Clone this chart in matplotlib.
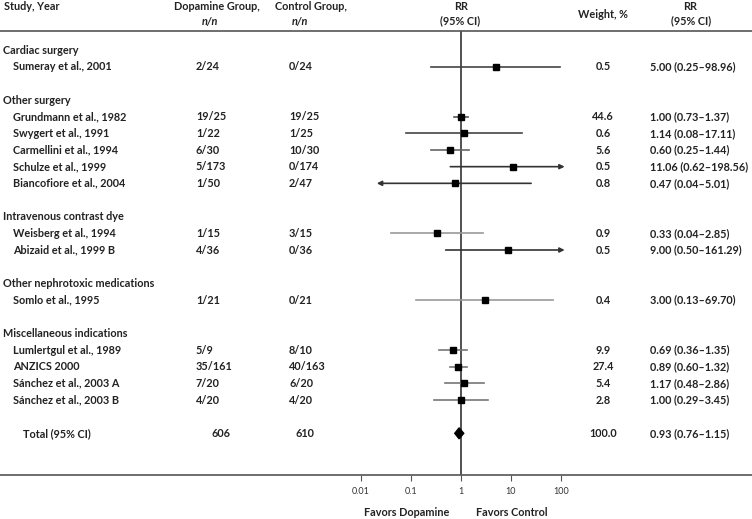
import matplotlib
matplotlib.use("Agg")
import matplotlib.pyplot as plt
import numpy as np

plt.rcParams['font.family'] = ['Lato', 'DejaVu Sans']

# rows: group headers and studies, in order of display
groups = ["Cardiac surgery", "Other surgery", "Intravenous contrast dye",
          "Other nephrotoxic medications", "Miscellaneous indications"]
group_rows = [0, 3, 10, 14, 17]

studies = ["Sumeray et al., 2001",
           "Grundmann et al., 1982", "Swygert et al., 1991", "Carmellini et al., 1994",
           "Schulze et al., 1999", "Biancofiore et al., 2004",
           "Weisberg et al., 1994", "Abizaid et al., 1999 B",
           "Somlo et al., 1995",
           "Lumlertgul et al., 1989", "ANZICS 2000", "Sánchez et al., 2003 A",
           "Sánchez et al., 2003 B"]
study_rows = [1, 4, 5, 6, 7, 8, 11, 12, 15, 18, 19, 20, 21]
dopamine = ["2/24", "19/25", "1/22", "6/30", "5/173", "1/50", "1/15", "4/36",
            "1/21", "5/9", "35/161", "7/20", "4/20"]
control = ["0/24", "19/25", "1/25", "10/30", "0/174", "2/47", "3/15", "0/36",
           "0/21", "8/10", "40/163", "6/20", "4/20"]
weight = ["0.5", "44.6", "0.6", "5.6", "0.5", "0.8", "0.9", "0.5", "0.4",
          "9.9", "27.4", "5.4", "2.8"]
rr_text = ["5.00 (0.25–98.96)", "1.00 (0.73–1.37)", "1.14 (0.08–17.11)",
           "0.60 (0.25–1.44)", "11.06 (0.62–198.56)", "0.47 (0.04–5.01)",
           "0.33 (0.04–2.85)", "9.00 (0.50–161.29)", "3.00 (0.13–69.70)",
           "0.69 (0.36–1.35)", "0.89 (0.60–1.32)", "1.17 (0.48–2.86)",
           "1.00 (0.29–3.45)"]

# plotted estimates and intervals (as drawn in the figure)
est = [5.00, 1.00, 1.14, 0.60, 11.06, 0.77, 0.33, 9.00, 3.00, 0.69, 0.89, 1.17, 1.00]
lo = [0.25, 0.73, 0.08, 0.25, 0.62, 0.021, 0.04, 0.50, 0.13, 0.36, 0.60, 0.48, 0.29]
hi = [98.96, 1.37, 17.11, 1.44, 198.56, 25.6, 2.85, 161.29, 69.70, 1.35, 1.32, 2.86, 3.45]
arrows = ["", "", "", "", ">", "<", "", ">", "", "", "", "", ""]
ci_colors = ["#444444", "#555555", "#444444", "#666666", "#666666", "#444444",
             "#999999", "#555555", "#999999", "#777777", "#777777", "#777777", "#777777"]

total_row = 23
total_n = ["606", "610"]
total_est, total_lo, total_hi = 0.93, 0.76, 1.15
total_weight = "100.0"
total_rr = "0.93 (0.76–1.15)"

ticks = [0.01, 0.1, 1, 10, 100]
tick_labels = ["0.01", "0.1", "1", "10", "100"]

W, H = 752, 519
fig = plt.figure(figsize=(W / 100, H / 100), dpi=100)
ax = fig.add_axes([0, (H - 475) / H, 1, (475 - 31) / H])
ax.set_xscale("log")
ax.set_xlim(10 ** (-460.7 / 50), 10 ** ((W - 460.7) / 50))
ax.set_ylim(25.5, -1.14)

for s in ["left", "right"]:
    ax.spines[s].set_visible(False)
for s in ["top", "bottom"]:
    ax.spines[s].set_color("#555555")
    ax.spines[s].set_linewidth(1.2)
ax.set_yticks([])
ax.set_xticks(ticks)
ax.set_xticklabels(tick_labels)
ax.minorticks_off()
ax.tick_params(axis="x", direction="out", length=4, width=0.8, color="#555555",
               labelsize=6.5, labelcolor="#333333", pad=5)

ax.axvline(1, color="#333333", lw=1.2, zorder=1)

clip = 120
for i in range(len(studies)):
    y = study_rows[i]
    c = ci_colors[i]
    if arrows[i] == ">":
        ax.annotate("", xy=(min(hi[i], clip), y), xytext=(lo[i], y),
                    arrowprops=dict(arrowstyle="-|>", color="#333333", lw=1.2,
                                    mutation_scale=7, shrinkA=0, shrinkB=0))
    elif arrows[i] == "<":
        ax.annotate("", xy=(lo[i], y), xytext=(hi[i], y),
                    arrowprops=dict(arrowstyle="-|>", color="#333333", lw=1.2,
                                    mutation_scale=7, shrinkA=0, shrinkB=0))
    else:
        ax.plot([lo[i], hi[i]], [y, y], color=c, lw=1.2, zorder=2)
    ax.plot(est[i], y, marker="s", ms=5, color="black", zorder=3)

ax.fill([total_lo, total_est, total_hi, total_est],
        [total_row, total_row - 0.33, total_row, total_row + 0.33],
        color="black", zorder=3)

tr = ax.get_yaxis_transform()
txt = dict(transform=tr, va="center", fontsize=7.8, fontweight="bold", color="#222222")
for g, r in zip(groups, group_rows):
    ax.text(3 / W, r, g, ha="left", **txt)
for i in range(len(studies)):
    r = study_rows[i]
    ax.text(13 / W, r, studies[i], ha="left", **txt)
    ax.text(196 / W, r, dopamine[i], ha="left", **txt)
    ax.text(289 / W, r, control[i], ha="left", **txt)
    ax.text(603 / W, r, weight[i], ha="center", **txt)
    ax.text(650 / W, r, rr_text[i], ha="left", **txt)
ax.text(23 / W, total_row, "Total (95% CI)", ha="left", **txt)
ax.text(212 / W, total_row, total_n[0], ha="left", **txt)
ax.text(295 / W, total_row, total_n[1], ha="left", **txt)
ax.text(603 / W, total_row, total_weight, ha="center", **txt)
ax.text(650 / W, total_row, total_rr, ha="left", **txt)

def ftext(px, py, s, ha="center", style="normal"):
    fig.text(px / W, 1 - py / H, s, ha=ha, va="center", fontsize=7.8,
             fontweight="bold", color="#222222", style=style)

ftext(4, 7, "Study, Year", ha="left")
ftext(217, 7, "Dopamine Group,")
ftext(210, 21, "n/n", style="italic")
ftext(311, 7, "Control Group,")
ftext(300, 21, "n/n", style="italic")
ftext(461, 7, "RR")
ftext(460, 21, "(95% CI)")
ftext(603, 15, "Weight, %")
ftext(690, 7, "RR")
ftext(691, 21, "(95% CI)")
ftext(407, 512, "Favors Dopamine")
ftext(512, 512, "Favors Control")

fig.savefig("out.png", dpi=100)
